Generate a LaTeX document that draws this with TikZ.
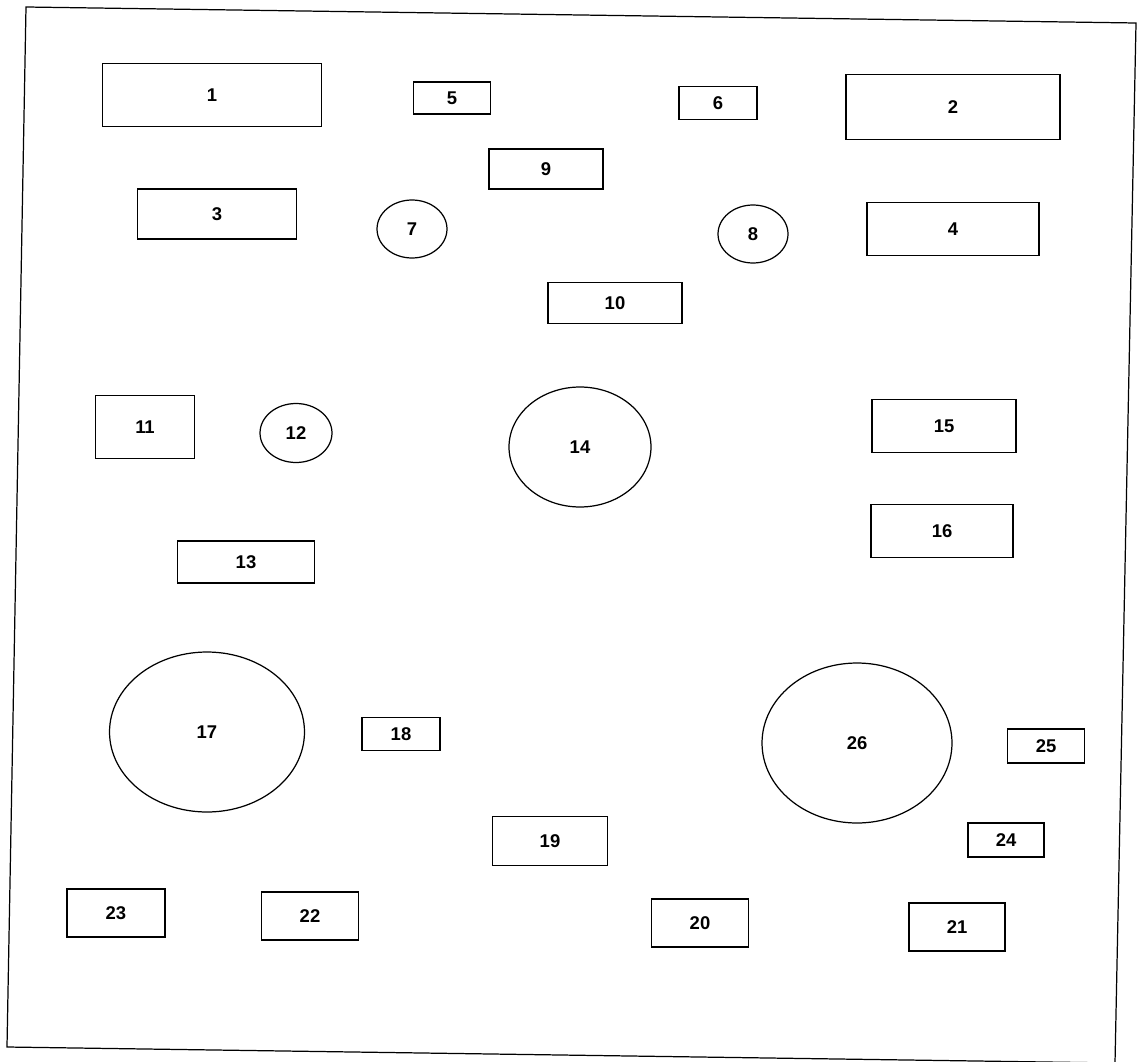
\documentclass[tikz,border=0pt]{standalone}
\usepackage{fontspec}
\setmainfont{Liberation Sans}
\usepackage{tikz}
\usetikzlibrary{shapes.geometric}

\begin{document}
\begin{tikzpicture}[
  x=0.02cm,y=-0.02cm,
  box/.style={draw,line width=0.7pt,inner sep=0pt,
              font=\fontsize{10.5}{12}\selectfont\bfseries},
  blob/.style={draw,ellipse,line width=0.7pt,inner sep=0pt,
               font=\fontsize{10.5}{12}\selectfont\bfseries}]
  \useasboundingbox (0,0) rectangle (1142,1061);
  \clip (0,0) rectangle (1142,1061);
  % outer frame (scan is slightly tilted)
  \coordinate (tl) at (26,7);
  \coordinate (tr) at (1136,23);
  \coordinate (br) at (1115,1063);
  \coordinate (bl) at (7,1047);
  \draw[line width=0.7pt] (tl) -- (tr) -- (br) -- (bl) -- cycle;
  % top rows
  \node[box,minimum width=4.38cm,minimum height=1.26cm] (n1) at (212,95) {1};
  \node[box,minimum width=4.28cm,minimum height=1.30cm] (n2) at (953,107) {2};
  \node[box,minimum width=3.18cm,minimum height=1.00cm] (n3) at (217,214) {3};
  \node[box,minimum width=3.44cm,minimum height=1.06cm] (n4) at (953,229) {4};
  \node[box,minimum width=1.54cm,minimum height=0.64cm] (n5) at (452,98) {5};
  \node[box,minimum width=1.56cm,minimum height=0.66cm] (n6) at (718,103) {6};
  \node[blob,minimum width=1.40cm,minimum height=1.16cm] (n7) at (412,229) {7};
  \node[blob,minimum width=1.40cm,minimum height=1.16cm] (n8) at (753,234) {8};
  \node[box,minimum width=2.28cm,minimum height=0.80cm] (n9) at (546,169) {9};
  \node[box,minimum width=2.68cm,minimum height=0.82cm] (n10) at (615,303) {10};
  % middle
  \node[box,minimum width=1.98cm,minimum height=1.26cm] (n11) at (145,427) {11};
  \node[blob,minimum width=1.44cm,minimum height=1.18cm] (n12) at (296,433) {12};
  \node[box,minimum width=2.74cm,minimum height=0.84cm] (n13) at (246,562) {13};
  \node[blob,minimum width=2.84cm,minimum height=2.40cm] (n14) at (580,447) {14};
  \node[box,minimum width=2.88cm,minimum height=1.06cm] (n15) at (944,426) {15};
  \node[box,minimum width=2.84cm,minimum height=1.06cm] (n16) at (942,531) {16};
  % bottom
  \node[blob,minimum width=3.90cm,minimum height=3.20cm] (n17) at (207,732) {17};
  \node[box,minimum width=1.56cm,minimum height=0.66cm] (n18) at (401,734) {18};
  \node[box,minimum width=2.30cm,minimum height=0.98cm] (n19) at (550,841) {19};
  \node[box,minimum width=1.94cm,minimum height=0.96cm] (n20) at (700,923) {20};
  \node[box,minimum width=1.92cm,minimum height=0.96cm] (n21) at (957,927) {21};
  \node[box,minimum width=1.94cm,minimum height=0.96cm] (n22) at (310,916) {22};
  \node[box,minimum width=1.96cm,minimum height=0.96cm] (n23) at (116,913) {23};
  \node[box,minimum width=1.52cm,minimum height=0.68cm] (n24) at (1006,840) {24};
  \node[box,minimum width=1.54cm,minimum height=0.68cm] (n25) at (1046,746) {25};
  \node[blob,minimum width=3.80cm,minimum height=3.20cm] (n26) at (857,743) {26};
\end{tikzpicture}
\end{document}
